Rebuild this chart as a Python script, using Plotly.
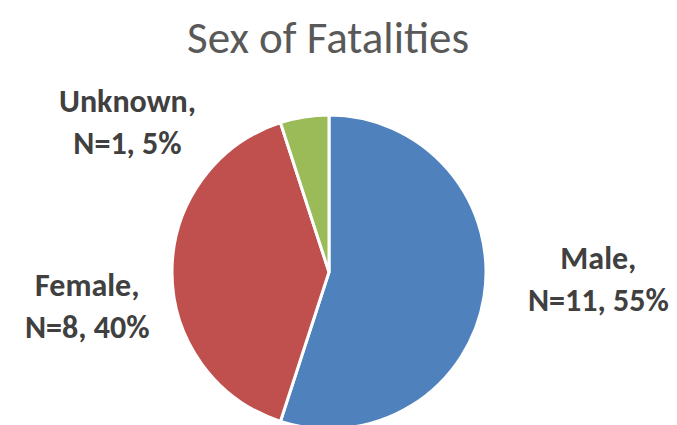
import plotly.graph_objects as go

labels = ["Male", "Female", "Unknown"]
counts = [11, 8, 1]
colors = ["#4F81BD", "#C0504D", "#9BBB59"]
title_text = "Sex of Fatalities"

total = sum(counts)
pcts = [round(100 * c / total) for c in counts]

W, H = 677, 425
cx, cy, r = 321, 264, 157
fig = go.Figure(go.Pie(
    labels=labels, values=counts, sort=False, direction="clockwise", rotation=0,
    marker=dict(colors=colors, line=dict(color="white", width=3)),
    textinfo="none", hoverinfo="label+value+percent", showlegend=False,
    domain=dict(x=[(cx - r) / W, (cx + r) / W], y=[(H - cy - r) / H, (H - cy + r) / H]),
))

font_fam = "Calibri, Carlito, 'Open Sans', 'Liberation Sans', sans-serif"
# label anchor positions (paper px)
label_pos = {"Male": (590, 271), "Female": (79, 298), "Unknown": (119, 114)}
for lab, n, p in zip(labels, counts, pcts):
    x, y = label_pos[lab]
    fig.add_annotation(
        x=x / W, y=1 - y / H, xref="paper", yref="paper", showarrow=False,
        text=f"<b>{lab},<br>N={n}, {p}%</b>", align="center",
        font=dict(family=font_fam, size=32, color="#404040"),
        xanchor="center", yanchor="middle",
    )

fig.add_annotation(
    x=320 / W, y=1, xref="paper", yref="paper", showarrow=False,
    text=title_text, xanchor="center", yanchor="top", yshift=0,
    font=dict(family=font_fam, size=45, color="#595959"),
)

fig.update_layout(
    width=W, height=H, margin=dict(l=0, r=0, t=0, b=0),
    paper_bgcolor="white", plot_bgcolor="white",
)
fig.write_html("out.html")
